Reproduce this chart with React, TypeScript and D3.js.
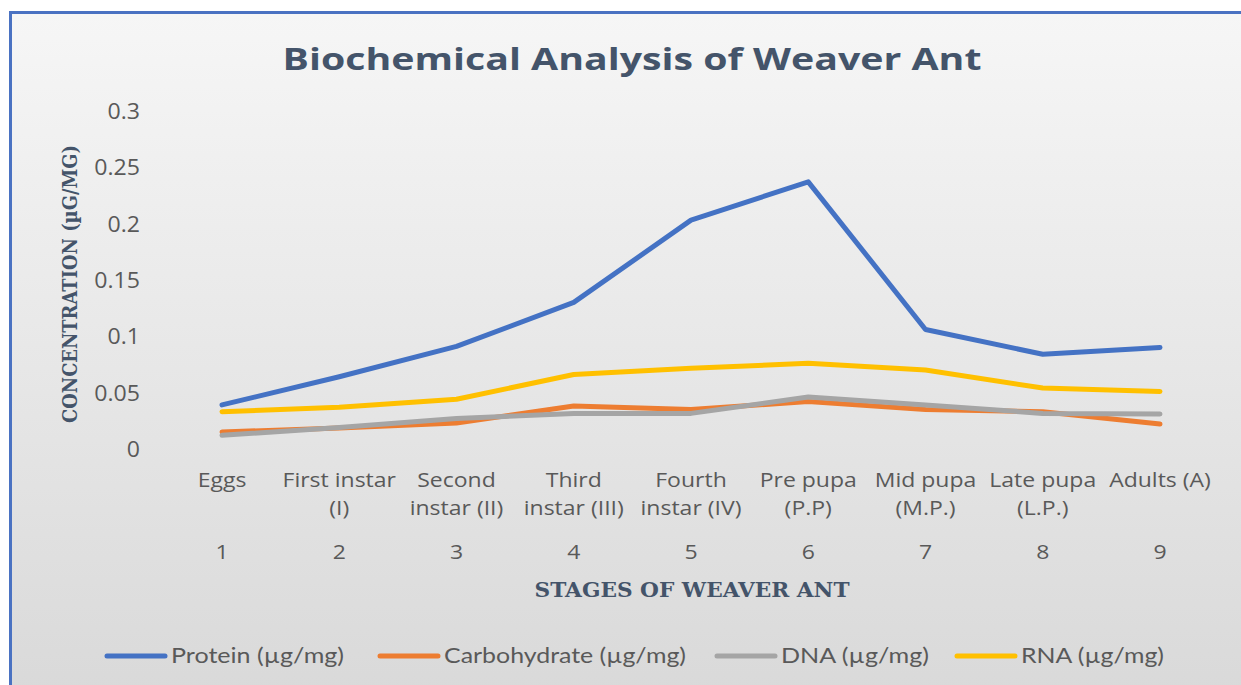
import React from "react";
import * as d3 from "d3";

const stages = ["1", "2", "3", "4", "5", "6", "7", "8", "9"];
const stageNames: string[][] = [
  ["Eggs"],
  ["First instar", "(I)"],
  ["Second", "instar (II)"],
  ["Third", "instar (III)"],
  ["Fourth", "instar (IV)"],
  ["Pre pupa", "(P.P)"],
  ["Mid pupa", "(M.P.)"],
  ["Late pupa", "(L.P.)"],
  ["Adults (A)"],
];
const protein = [0.04, 0.065, 0.092, 0.131, 0.204, 0.238, 0.107, 0.085, 0.091];
const carbohydrate = [0.016, 0.0195, 0.024, 0.039, 0.036, 0.043, 0.036, 0.034, 0.023];
const dna = [0.013, 0.02, 0.028, 0.0325, 0.0325, 0.047, 0.04, 0.0325, 0.032];
const rna = [0.034, 0.038, 0.045, 0.067, 0.0725, 0.077, 0.071, 0.055, 0.052];
const yTicks = [0, 0.05, 0.1, 0.15, 0.2, 0.25, 0.3];

const series = [
  { name: "Protein (µg/mg)", values: protein, color: "#4472C4" },
  { name: "Carbohydrate (µg/mg)", values: carbohydrate, color: "#ED7D31" },
  { name: "DNA (µg/mg)", values: dna, color: "#A5A5A5" },
  { name: "RNA (µg/mg)", values: rna, color: "#FFC000" },
];

const W = 1241;
const H = 685;

export default function App() {
  const x = d3.scalePoint<string>().domain(stages).range([222, 1160]);
  const y = d3.scaleLinear().domain([0, 0.3]).range([450, 112]);
  const line = d3
    .line<number>()
    .x((_, i) => x(stages[i]) as number)
    .y((d) => y(d));

  const legendX = [107, 380, 717, 957];
  const legendTextW = [173, 242, 148, 143];
  const textColor = "#595959";
  const font = "'Open Sans', sans-serif";
  const legendFont = "Lato, sans-serif";
  const sx = 1.15;

  return (
    <svg
      width={W}
      height={H}
      style={{ position: "absolute", left: 0, top: 0, display: "block" }}
    >
      <defs>
        <linearGradient id="bg" x1="0" y1="0" x2="0" y2="1">
          <stop offset="0" stopColor="#f6f6f6" />
          <stop offset="1" stopColor="#d9d9d9" />
        </linearGradient>
      </defs>
      <rect x={0} y={0} width={W} height={H} fill="#ffffff" />
      <rect x={12} y={14} width={W} height={H} fill="url(#bg)" />
      <rect
        x={10.5}
        y={12.5}
        width={W + 20}
        height={H + 20}
        fill="none"
        stroke="#4a72c2"
        strokeWidth={3}
      />
      <text
        x={632}
        y={70}
        textAnchor="middle"
        fontFamily="'Open Sans', sans-serif"
        fontWeight="bold"
        fontSize={31}
        fill="#44546A"
        textLength={699}
        lengthAdjust="spacingAndGlyphs"
      >
        Biochemical Analysis of Weaver Ant
      </text>

      {yTicks.map((t) => (
        <g key={t} transform={`translate(140,${y(t) + 7}) scale(1.1,1)`}>
          <text
            x={0}
            y={0}
            textAnchor="end"
            fontFamily={font}
            fontSize={21}
            fill={textColor}
          >
            {String(t)}
          </text>
        </g>
      ))}

      <text
        transform={`translate(77,${284}) rotate(-90)`}
        textAnchor="middle"
        fontFamily="'DejaVu Serif', serif"
        fontWeight="bold"
        fontSize={20}
        fill="#44546A"
        textLength={278}
        lengthAdjust="spacingAndGlyphs"
      >
        CONCENTRATION (µG/MG)
      </text>

      {series.map((s) => (
        <path
          key={s.name}
          d={line(s.values) || ""}
          fill="none"
          stroke={s.color}
          strokeWidth={5}
          strokeLinejoin="round"
          strokeLinecap="round"
        />
      ))}

      {stages.map((st, i) => (
        <g key={st}>
          {stageNames[i].map((ln, j) => (
            <g
              key={j}
              transform={`translate(${x(st) as number},${487 + j * 28}) scale(${sx},1)`}
            >
              <text
                x={0}
                y={0}
                textAnchor="middle"
                fontFamily={font}
                fontSize={20}
                fill={textColor}
              >
                {ln}
              </text>
            </g>
          ))}
          <g transform={`translate(${x(st) as number},559) scale(${sx},1)`}>
            <text
              x={0}
              y={0}
              textAnchor="middle"
              fontFamily={font}
              fontSize={20}
              fill={textColor}
            >
              {st}
            </text>
          </g>
        </g>
      ))}

      <text
        x={692}
        y={597}
        textAnchor="middle"
        fontFamily="'DejaVu Serif', serif"
        fontWeight="bold"
        fontSize={20}
        fill="#44546A"
        textLength={315}
        lengthAdjust="spacingAndGlyphs"
      >
        STAGES OF WEAVER ANT
      </text>

      {series.map((s, i) => (
        <g key={s.name} transform={`translate(${legendX[i]},656)`}>
          <line
            x1={0}
            x2={58}
            y1={0}
            y2={0}
            stroke={s.color}
            strokeWidth={5}
            strokeLinecap="round"
          />
          <text
            x={64}
            y={7}
            fontFamily={legendFont}
            fontSize={22}
            fill={textColor}
            textLength={legendTextW[i]}
            lengthAdjust="spacingAndGlyphs"
          >
            {s.name}
          </text>
        </g>
      ))}
    </svg>
  );
}
